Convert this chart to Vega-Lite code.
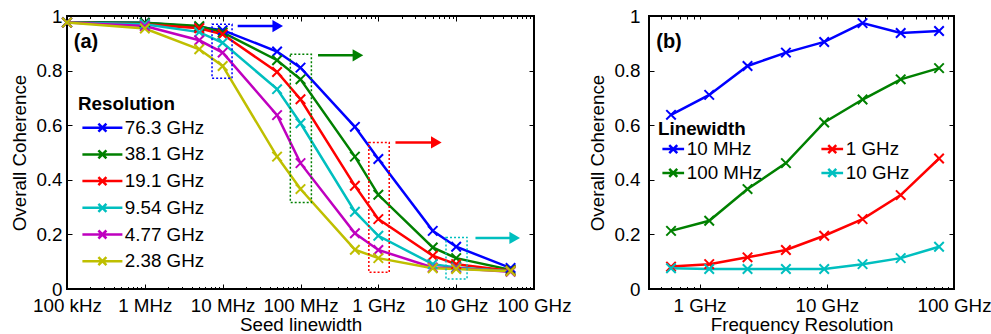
{
  "$schema": "https://vega.github.io/schema/vega-lite/v6.json",
  "padding": {"left": 9, "top": 6, "right": 0, "bottom": 0},
  "config": {
    "font": "Liberation Sans",
    "view": {"stroke": "#000000", "strokeWidth": 2},
    "axis": {
      "labelFont": "Liberation Sans", "labelFontSize": 18.8, "labelColor": "#000000",
      "titleFont": "Liberation Sans", "titleFontSize": 18.8, "titleFontWeight": "normal", "titleColor": "#000000",
      "tickColor": "#000000", "tickWidth": 1, "domain": false, "grid": false, "labelFlush": false, "labelOverlap": false
    },
    "legend": {
      "labelFont": "Liberation Sans", "labelFontSize": 18.8, "labelColor": "#000000",
      "titleFont": "Liberation Sans", "titleFontSize": 18.8, "titleFontWeight": "bold", "titleColor": "#000000"
    }
  },
  "datasets": {
    "a": [
      {"series": "76.3 GHz", "f": 1e5, "c": 0.977}, {"series": "76.3 GHz", "f": 1e6, "c": 0.975}, {"series": "76.3 GHz", "f": 5e6, "c": 0.96}, {"series": "76.3 GHz", "f": 1e7, "c": 0.948}, {"series": "76.3 GHz", "f": 5e7, "c": 0.87}, {"series": "76.3 GHz", "f": 1e8, "c": 0.811}, {"series": "76.3 GHz", "f": 5e8, "c": 0.594}, {"series": "76.3 GHz", "f": 1e9, "c": 0.476}, {"series": "76.3 GHz", "f": 5e9, "c": 0.213}, {"series": "76.3 GHz", "f": 1e10, "c": 0.155}, {"series": "76.3 GHz", "f": 5e10, "c": 0.077},
      {"series": "38.1 GHz", "f": 1e5, "c": 0.977}, {"series": "38.1 GHz", "f": 1e6, "c": 0.975}, {"series": "38.1 GHz", "f": 5e6, "c": 0.963}, {"series": "38.1 GHz", "f": 1e7, "c": 0.94}, {"series": "38.1 GHz", "f": 5e7, "c": 0.838}, {"series": "38.1 GHz", "f": 1e8, "c": 0.768}, {"series": "38.1 GHz", "f": 5e8, "c": 0.485}, {"series": "38.1 GHz", "f": 1e9, "c": 0.345}, {"series": "38.1 GHz", "f": 5e9, "c": 0.152}, {"series": "38.1 GHz", "f": 1e10, "c": 0.113}, {"series": "38.1 GHz", "f": 5e10, "c": 0.07},
      {"series": "19.1 GHz", "f": 1e5, "c": 0.976}, {"series": "19.1 GHz", "f": 1e6, "c": 0.97}, {"series": "19.1 GHz", "f": 5e6, "c": 0.955}, {"series": "19.1 GHz", "f": 1e7, "c": 0.933}, {"series": "19.1 GHz", "f": 5e7, "c": 0.795}, {"series": "19.1 GHz", "f": 1e8, "c": 0.695}, {"series": "19.1 GHz", "f": 5e8, "c": 0.378}, {"series": "19.1 GHz", "f": 1e9, "c": 0.256}, {"series": "19.1 GHz", "f": 5e9, "c": 0.122}, {"series": "19.1 GHz", "f": 1e10, "c": 0.091}, {"series": "19.1 GHz", "f": 5e10, "c": 0.067},
      {"series": "9.54 GHz", "f": 1e5, "c": 0.976}, {"series": "9.54 GHz", "f": 1e6, "c": 0.97}, {"series": "9.54 GHz", "f": 5e6, "c": 0.941}, {"series": "9.54 GHz", "f": 1e7, "c": 0.902}, {"series": "9.54 GHz", "f": 5e7, "c": 0.732}, {"series": "9.54 GHz", "f": 1e8, "c": 0.607}, {"series": "9.54 GHz", "f": 5e8, "c": 0.283}, {"series": "9.54 GHz", "f": 1e9, "c": 0.195}, {"series": "9.54 GHz", "f": 5e9, "c": 0.091}, {"series": "9.54 GHz", "f": 1e10, "c": 0.079}, {"series": "9.54 GHz", "f": 5e10, "c": 0.065},
      {"series": "4.77 GHz", "f": 1e5, "c": 0.976}, {"series": "4.77 GHz", "f": 1e6, "c": 0.963}, {"series": "4.77 GHz", "f": 5e6, "c": 0.911}, {"series": "4.77 GHz", "f": 1e7, "c": 0.866}, {"series": "4.77 GHz", "f": 5e7, "c": 0.637}, {"series": "4.77 GHz", "f": 1e8, "c": 0.461}, {"series": "4.77 GHz", "f": 5e8, "c": 0.204}, {"series": "4.77 GHz", "f": 1e9, "c": 0.143}, {"series": "4.77 GHz", "f": 5e9, "c": 0.079}, {"series": "4.77 GHz", "f": 1e10, "c": 0.076}, {"series": "4.77 GHz", "f": 5e10, "c": 0.063},
      {"series": "2.38 GHz", "f": 1e5, "c": 0.976}, {"series": "2.38 GHz", "f": 1e6, "c": 0.954}, {"series": "2.38 GHz", "f": 5e6, "c": 0.878}, {"series": "2.38 GHz", "f": 1e7, "c": 0.817}, {"series": "2.38 GHz", "f": 5e7, "c": 0.485}, {"series": "2.38 GHz", "f": 1e8, "c": 0.366}, {"series": "2.38 GHz", "f": 5e8, "c": 0.144}, {"series": "2.38 GHz", "f": 1e9, "c": 0.113}, {"series": "2.38 GHz", "f": 5e9, "c": 0.076}, {"series": "2.38 GHz", "f": 1e10, "c": 0.073}, {"series": "2.38 GHz", "f": 5e10, "c": 0.065}
    ],
    "b": [
      {"series": "10 MHz", "r": 0.596e9, "c": 0.638}, {"series": "10 MHz", "r": 1.19e9, "c": 0.711}, {"series": "10 MHz", "r": 2.38e9, "c": 0.817}, {"series": "10 MHz", "r": 4.77e9, "c": 0.866}, {"series": "10 MHz", "r": 9.54e9, "c": 0.905}, {"series": "10 MHz", "r": 19.1e9, "c": 0.974}, {"series": "10 MHz", "r": 38.1e9, "c": 0.938}, {"series": "10 MHz", "r": 76.3e9, "c": 0.945},
      {"series": "100 MHz", "r": 0.596e9, "c": 0.213}, {"series": "100 MHz", "r": 1.19e9, "c": 0.25}, {"series": "100 MHz", "r": 2.38e9, "c": 0.366}, {"series": "100 MHz", "r": 4.77e9, "c": 0.461}, {"series": "100 MHz", "r": 9.54e9, "c": 0.61}, {"series": "100 MHz", "r": 19.1e9, "c": 0.694}, {"series": "100 MHz", "r": 38.1e9, "c": 0.768}, {"series": "100 MHz", "r": 76.3e9, "c": 0.809},
      {"series": "1 GHz", "r": 0.596e9, "c": 0.082}, {"series": "1 GHz", "r": 1.19e9, "c": 0.091}, {"series": "1 GHz", "r": 2.38e9, "c": 0.116}, {"series": "1 GHz", "r": 4.77e9, "c": 0.143}, {"series": "1 GHz", "r": 9.54e9, "c": 0.195}, {"series": "1 GHz", "r": 19.1e9, "c": 0.256}, {"series": "1 GHz", "r": 38.1e9, "c": 0.344}, {"series": "1 GHz", "r": 76.3e9, "c": 0.478},
      {"series": "10 GHz", "r": 0.596e9, "c": 0.076}, {"series": "10 GHz", "r": 1.19e9, "c": 0.073}, {"series": "10 GHz", "r": 2.38e9, "c": 0.073}, {"series": "10 GHz", "r": 4.77e9, "c": 0.073}, {"series": "10 GHz", "r": 9.54e9, "c": 0.073}, {"series": "10 GHz", "r": 19.1e9, "c": 0.091}, {"series": "10 GHz", "r": 38.1e9, "c": 0.113}, {"series": "10 GHz", "r": 76.3e9, "c": 0.155}
    ],
    "boxes": [
      {"lw": "10 MHz", "x1": 7.3e6, "x2": 1.32e7, "y1": 0.772, "y2": 0.97},
      {"lw": "100 MHz", "x1": 7.4e7, "x2": 1.38e8, "y1": 0.317, "y2": 0.86},
      {"lw": "1 GHz", "x1": 7.55e8, "x2": 1.38e9, "y1": 0.061, "y2": 0.537},
      {"lw": "10 GHz", "x1": 7.4e9, "x2": 1.38e10, "y1": 0.037, "y2": 0.189}
    ],
    "arrows": [
      {"lw": "10 MHz", "xs": 1.56e7, "xe": 5.1e7, "y": 0.963},
      {"lw": "100 MHz", "xs": 1.68e8, "xe": 5.47e8, "y": 0.856},
      {"lw": "1 GHz", "xs": 1.66e9, "xe": 5.56e9, "y": 0.537},
      {"lw": "10 GHz", "xs": 1.77e10, "xe": 5.65e10, "y": 0.187}
    ],
    "tagA": [{"t": "(a)", "x": 1.22e5, "y": 0.906}],
    "tagB": [{"t": "(b)", "x": 4.56e8, "y": 0.906}]
  },
  "resolve": {"scale": {"color": "independent"}, "legend": {"color": "independent"}},
  "bounds": "flush",
  "spacing": 115,
  "hconcat": [
    {
      "width": 467,
      "height": 273,
      "resolve": {"axis": {"x": "independent", "y": "independent"}},
      "layer": [
        {
          "data": {"name": "a"},
          "mark": {"type": "line", "strokeWidth": 2.5},
          "encoding": {
            "x": {"field": "f", "type": "quantitative", "scale": {"type": "log", "domain": [1e5, 1e11], "nice": false},
              "axis": {"orient": "bottom", "values": [1e5, 1e6, 1e7, 1e8, 1e9, 1e10, 1e11], "tickSize": -5, "labelPadding": 12, "titlePadding": 1, "title": "Seed linewidth",
                "labelExpr": "datum.value < 5e5 ? '100 kHz' : datum.value < 5e6 ? '1 MHz' : datum.value < 5e7 ? '10 MHz' : datum.value < 5e8 ? '100 MHz' : datum.value < 5e9 ? '1 GHz' : datum.value < 5e10 ? '10 GHz' : '100 GHz'"}},
            "y": {"field": "c", "type": "quantitative", "scale": {"domain": [0, 1], "nice": false},
              "axis": {"orient": "left", "values": [0, 0.2, 0.4, 0.6, 0.8, 1], "format": "~g", "tickSize": -5, "labelPadding": 10, "titlePadding": 6, "title": "Overall Coherence"}},
            "color": {"field": "series", "type": "nominal",
              "scale": {"domain": ["76.3 GHz", "38.1 GHz", "19.1 GHz", "9.54 GHz", "4.77 GHz", "2.38 GHz"], "range": ["#0000ff", "#008000", "#ff0000", "#00bfbf", "#bf00bf", "#bfbf00"]},
              "legend": {"title": "Resolution", "orient": "none", "legendX": 11, "legendY": 79, "symbolType": "M-1,0L7,0M2.2,-0.8L3.8,0.8M2.2,0.8L3.8,-0.8", "symbolSize": 100, "symbolStrokeWidth": 2.5, "symbolFillColor": "transparent", "labelOffset": 28, "rowPadding": 6.7, "titlePadding": 4.5}}
          }
        },
        {
          "data": {"name": "a"},
          "mark": {"type": "point", "shape": "M-1,-1L1,1M-1,1L1,-1", "filled": false, "size": 90, "strokeWidth": 2, "opacity": 1},
          "encoding": {
            "x": {"field": "f", "type": "quantitative", "scale": {"type": "log", "domain": [1e5, 1e11], "nice": false},
              "axis": {"orient": "bottom", "values": [2e5, 3e5, 4e5, 5e5, 6e5, 7e5, 8e5, 9e5, 2e6, 3e6, 4e6, 5e6, 6e6, 7e6, 8e6, 9e6, 2e7, 3e7, 4e7, 5e7, 6e7, 7e7, 8e7, 9e7, 2e8, 3e8, 4e8, 5e8, 6e8, 7e8, 8e8, 9e8, 2e9, 3e9, 4e9, 5e9, 6e9, 7e9, 8e9, 9e9, 2e10, 3e10, 4e10, 5e10, 6e10, 7e10, 8e10, 9e10], "labels": false, "tickSize": -2.5, "title": null}},
            "y": {"field": "c", "type": "quantitative", "scale": {"domain": [0, 1], "nice": false},
              "axis": {"orient": "right", "values": [0, 0.2, 0.4, 0.6, 0.8, 1], "labels": false, "tickSize": -5, "title": null}},
            "color": {"field": "series", "type": "nominal", "legend": null}
          }
        },
        {
          "data": {"name": "boxes"},
          "mark": {"type": "rect", "fill": "transparent", "strokeWidth": 1.5, "strokeDash": [2, 2]},
          "encoding": {
            "x": {"field": "x1", "type": "quantitative", "scale": {"type": "log", "domain": [1e5, 1e11], "nice": false},
              "axis": {"orient": "top", "values": [1e5, 1e6, 1e7, 1e8, 1e9, 1e10, 1e11], "labels": false, "tickSize": -5, "title": null}},
            "x2": {"field": "x2"},
            "y": {"field": "y1", "type": "quantitative", "scale": {"domain": [0, 1], "nice": false}, "axis": null},
            "y2": {"field": "y2"},
            "stroke": {"field": "lw", "type": "nominal", "scale": {"domain": ["10 MHz", "100 MHz", "1 GHz", "10 GHz"], "range": ["#0000ff", "#008000", "#ff0000", "#00bfbf"]}, "legend": null}
          }
        },
        {
          "data": {"name": "arrows"},
          "mark": {"type": "rule", "strokeWidth": 2.5},
          "encoding": {
            "x": {"field": "xs", "type": "quantitative", "scale": {"type": "log", "domain": [1e5, 1e11], "nice": false},
              "axis": {"orient": "top", "values": [2e5, 3e5, 4e5, 5e5, 6e5, 7e5, 8e5, 9e5, 2e6, 3e6, 4e6, 5e6, 6e6, 7e6, 8e6, 9e6, 2e7, 3e7, 4e7, 5e7, 6e7, 7e7, 8e7, 9e7, 2e8, 3e8, 4e8, 5e8, 6e8, 7e8, 8e8, 9e8, 2e9, 3e9, 4e9, 5e9, 6e9, 7e9, 8e9, 9e9, 2e10, 3e10, 4e10, 5e10, 6e10, 7e10, 8e10, 9e10], "labels": false, "tickSize": -2.5, "title": null}},
            "x2": {"field": "xe"},
            "y": {"field": "y", "type": "quantitative", "scale": {"domain": [0, 1], "nice": false}, "axis": null},
            "stroke": {"field": "lw", "type": "nominal", "legend": null}
          }
        },
        {
          "data": {"name": "arrows"},
          "mark": {"type": "point", "shape": "triangle-right", "filled": true, "size": 150, "opacity": 1},
          "encoding": {
            "x": {"field": "xe", "type": "quantitative", "scale": {"type": "log", "domain": [1e5, 1e11], "nice": false}, "axis": null},
            "y": {"field": "y", "type": "quantitative", "scale": {"domain": [0, 1], "nice": false}, "axis": null},
            "fill": {"field": "lw", "type": "nominal", "scale": {"domain": ["10 MHz", "100 MHz", "1 GHz", "10 GHz"], "range": ["#0000ff", "#008000", "#ff0000", "#00bfbf"]}, "legend": null}
          }
        },
        {
          "data": {"name": "tagA"},
          "mark": {"type": "text", "font": "Liberation Sans", "fontSize": 20, "fontWeight": "bold", "align": "left", "baseline": "middle", "color": "#000000"},
          "encoding": {
            "x": {"field": "x", "type": "quantitative", "scale": {"type": "log", "domain": [1e5, 1e11], "nice": false}, "axis": null},
            "y": {"field": "y", "type": "quantitative", "scale": {"domain": [0, 1], "nice": false}, "axis": null},
            "text": {"field": "t"}
          }
        }
      ]
    },
    {
      "width": 305,
      "height": 273,
      "resolve": {"axis": {"x": "independent", "y": "independent"}},
      "layer": [
        {
          "data": {"name": "b"},
          "mark": {"type": "line", "strokeWidth": 2.5},
          "encoding": {
            "x": {"field": "r", "type": "quantitative", "scale": {"type": "log", "domain": [4e8, 1e11], "nice": false},
              "axis": {"orient": "bottom", "values": [1e9, 1e10, 1e11], "tickSize": -5, "labelPadding": 12, "titlePadding": 1, "title": "Frequency Resolution",
                "labelExpr": "datum.value < 5e9 ? '1 GHz' : datum.value < 5e10 ? '10 GHz' : '100 GHz'"}},
            "y": {"field": "c", "type": "quantitative", "scale": {"domain": [0, 1], "nice": false},
              "axis": {"orient": "left", "values": [0, 0.2, 0.4, 0.6, 0.8, 1], "format": "~g", "tickSize": -5, "labelPadding": 14, "titlePadding": 6, "title": "Overall Coherence"}},
            "color": {"field": "series", "type": "nominal",
              "scale": {"domain": ["10 MHz", "100 MHz", "1 GHz", "10 GHz"], "range": ["#0000ff", "#008000", "#ff0000", "#00bfbf"]},
              "legend": {"title": "Linewidth", "orient": "none", "legendX": 9, "legendY": 104, "columns": 2, "columnPadding": 54, "symbolType": "M-1,0L3.34,0M0.37,-0.8L1.97,0.8M0.37,0.8L1.97,-0.8", "symbolSize": 100, "symbolStrokeWidth": 2.5, "symbolFillColor": "transparent", "labelOffset": 10, "rowPadding": 4.2, "titlePadding": 0.5}}
          }
        },
        {
          "data": {"name": "b"},
          "mark": {"type": "point", "shape": "M-1,-1L1,1M-1,1L1,-1", "filled": false, "size": 90, "strokeWidth": 2, "opacity": 1},
          "encoding": {
            "x": {"field": "r", "type": "quantitative", "scale": {"type": "log", "domain": [4e8, 1e11], "nice": false},
              "axis": {"orient": "bottom", "values": [5e8, 6e8, 7e8, 8e8, 9e8, 2e9, 3e9, 4e9, 5e9, 6e9, 7e9, 8e9, 9e9, 2e10, 3e10, 4e10, 5e10, 6e10, 7e10, 8e10, 9e10], "labels": false, "tickSize": -2.5, "title": null}},
            "y": {"field": "c", "type": "quantitative", "scale": {"domain": [0, 1], "nice": false},
              "axis": {"orient": "right", "values": [0, 0.2, 0.4, 0.6, 0.8, 1], "labels": false, "tickSize": -5, "title": null}},
            "color": {"field": "series", "type": "nominal", "legend": null}
          }
        },
        {
          "data": {"name": "tagB"},
          "mark": {"type": "text", "font": "Liberation Sans", "fontSize": 20, "fontWeight": "bold", "align": "left", "baseline": "middle", "color": "#000000"},
          "encoding": {
            "x": {"field": "x", "type": "quantitative", "scale": {"type": "log", "domain": [4e8, 1e11], "nice": false},
              "axis": {"orient": "top", "values": [5e8, 6e8, 7e8, 8e8, 9e8, 1e9, 2e9, 3e9, 4e9, 5e9, 6e9, 7e9, 8e9, 9e9, 1e10, 2e10, 3e10, 4e10, 5e10, 6e10, 7e10, 8e10, 9e10], "labels": false, "tickSize": -3, "title": null}},
            "y": {"field": "y", "type": "quantitative", "scale": {"domain": [0, 1], "nice": false}, "axis": null},
            "text": {"field": "t"}
          }
        }
      ]
    }
  ]
}
